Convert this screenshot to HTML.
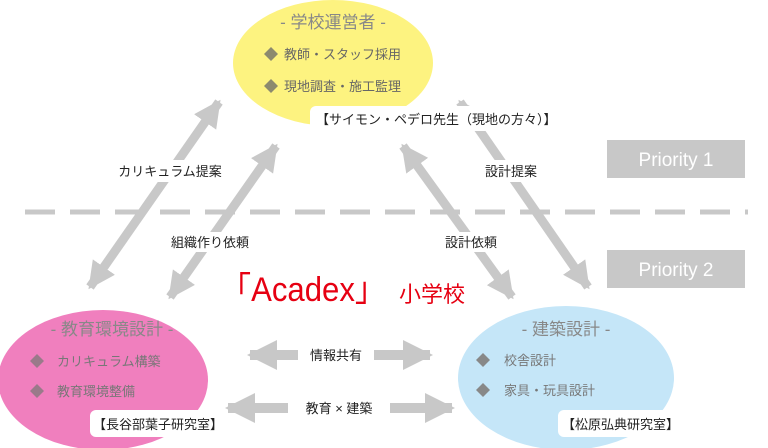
<!DOCTYPE html>
<html><head><meta charset="utf-8"><style>
html,body{margin:0;padding:0;background:#fff;width:768px;height:448px;overflow:hidden}
svg{display:block}
text{font-family:"Liberation Sans","Noto Sans CJK JP",sans-serif}
</style></head><body>
<svg width="768" height="448" viewBox="0 0 768 448" xmlns="http://www.w3.org/2000/svg">
<defs>
<marker id="h" viewBox="0 0 10 10" refX="9" refY="5" markerWidth="3" markerHeight="3" orient="auto-start-reverse" markerUnits="strokeWidth">
<path d="M0,0 L10,5 L0,10 Z" fill="#c8c8c8"/>
</marker>
</defs>
<line x1="25" y1="212" x2="748" y2="212" stroke="#c8c8c8" stroke-width="5" stroke-dasharray="30,15"/>
<rect x="607" y="140" width="138" height="38" fill="#c8c8c8"/>
<text x="676" y="166" text-anchor="middle" font-size="19" fill="#fff">Priority 1</text>
<rect x="607" y="250" width="138" height="38" fill="#c8c8c8"/>
<text x="676" y="276" text-anchor="middle" font-size="19" fill="#fff">Priority 2</text>
<g stroke="#c8c8c8" stroke-width="9" marker-start="url(#h)" marker-end="url(#h)" fill="none">
<line x1="219" y1="102" x2="90" y2="287"/>
<line x1="276" y1="146" x2="170" y2="297"/>
<line x1="403" y1="146" x2="512" y2="297"/>
<line x1="460" y1="102" x2="588" y2="287"/>
</g>
<g stroke="#c8c8c8" stroke-width="10" fill="none">
<line x1="250" y1="355" x2="298" y2="355" marker-start="url(#h)"/>
<line x1="374" y1="355" x2="430" y2="355" marker-end="url(#h)"/>
<line x1="228" y1="408" x2="288" y2="408" marker-start="url(#h)"/>
<line x1="390" y1="408" x2="452" y2="408" marker-end="url(#h)"/>
</g>
<text x="336" y="360" text-anchor="middle" font-size="13" fill="#222">情報共有</text>
<text x="339" y="413" text-anchor="middle" font-size="13" fill="#222">教育 × 建築</text>
<g font-size="13" fill="#222" text-anchor="middle">
<rect x="108" y="160" width="124" height="22" fill="#fff"/>
<text x="170" y="176">カリキュラム提案</text>
<rect x="165" y="232" width="90" height="20" fill="#fff"/>
<text x="210" y="247">組織作り依頼</text>
<rect x="440" y="232" width="62" height="20" fill="#fff"/>
<text x="471" y="247">設計依頼</text>
<rect x="480" y="160" width="62" height="22" fill="#fff"/>
<text x="511" y="176">設計提案</text>
</g>
<ellipse cx="333" cy="63" rx="100" ry="63" fill="#fdf380"/>
<text x="333" y="28" text-anchor="middle" font-size="17" fill="#888">- 学校運営者 -</text>
<g font-size="13" fill="#666">
<path d="M264 54 l7 -7 l7 7 l-7 7 z" fill="#8c8a6e"/>
<text x="284" y="59">教師・スタッフ採用</text>
<path d="M264 86 l7 -7 l7 7 l-7 7 z" fill="#8c8a6e"/>
<text x="284" y="91">現地調査・施工監理</text>
</g>
<rect x="310" y="106" width="272" height="25" rx="6" fill="#fff"/>
<text x="316" y="124" font-size="13" fill="#222">【サイモン・ペデロ先生（現地の方々）】</text>
<ellipse cx="103" cy="380" rx="105" ry="70" fill="#f07fbe"/>
<text x="112" y="335" text-anchor="middle" font-size="17" fill="#888">- 教育環境設計 -</text>
<g font-size="13" fill="#777">
<path d="M30 361 l7 -7 l7 7 l-7 7 z" fill="#9a7a8a"/>
<text x="57" y="366">カリキュラム構築</text>
<path d="M30 391 l7 -7 l7 7 l-7 7 z" fill="#9a7a8a"/>
<text x="57" y="396">教育環境整備</text>
</g>
<rect x="90" y="410" width="136" height="27" rx="6" fill="#fff"/>
<text x="93" y="429" font-size="13" fill="#222">【長谷部葉子研究室】</text>
<ellipse cx="566" cy="378" rx="108" ry="72" fill="#c5e6f8"/>
<text x="566" y="335" text-anchor="middle" font-size="17" fill="#888">- 建築設計 -</text>
<g font-size="13" fill="#777">
<path d="M476 360 l7 -7 l7 7 l-7 7 z" fill="#888"/>
<text x="504" y="365">校舎設計</text>
<path d="M476 390 l7 -7 l7 7 l-7 7 z" fill="#888"/>
<text x="504" y="395">家具・玩具設計</text>
</g>
<rect x="558" y="410" width="124" height="27" rx="6" fill="#fff"/>
<text x="562" y="429" font-size="13" fill="#222">【松原弘典研究室】</text>
<text x="220" y="301" font-size="34" fill="#e60012" textLength="166" lengthAdjust="spacingAndGlyphs">「Acadex」</text>
<text x="399" y="302" font-size="22" fill="#e60012">小学校</text>
</svg>
</body></html>
